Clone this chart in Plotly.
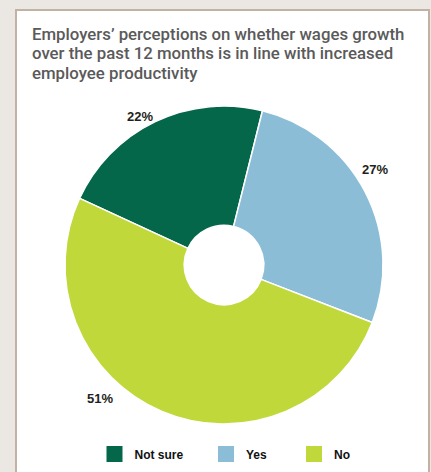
import math
import plotly.graph_objects as go

# Survey responses (share of employers, %)
labels = ["Not sure", "Yes", "No"]
values = [22, 27, 51]
colors = ["#04674a", "#8bbdd7", "#c1d83b"]

title_lines = [
    "Employers’ perceptions on whether wages growth",
    "over the past 12 months is in line with increased",
    "employee productivity",
]

W, H = 431, 472

# White panel (pixel edges) sitting on the beige page
PANEL_L, PANEL_R, PANEL_T = 16, 429, 10

# Donut geometry in pixels (centre and radius), converted to the pie domain
cx, cy, rad = 224, 265, 159
start_angle = -65.2          # clockwise from 12 o'clock, where the first slice begins
dom_x = [(cx - rad) / W, (cx + rad) / W]
dom_y = [(H - cy - rad) / H, (H - cy + rad) / H]

# Percentage labels: placed along each slice's direction, nudged a little
label_nudge_deg = [-4, -5, 20]
label_radius = [171, 179, 182]

FONT = "Liberation Sans, Arial, sans-serif"
TITLE_FONT = "Roboto, Liberation Sans, Arial, sans-serif"


def px_to_paper(x, y):
    return x / W, (H - y) / H


fig = go.Figure()
fig.add_trace(
    go.Pie(
        labels=labels,
        values=values,
        marker=dict(colors=colors, line=dict(color="white", width=1.5)),
        hole=0.25,
        sort=False,
        direction="clockwise",
        rotation=start_angle,
        textinfo="none",
        showlegend=False,
        hoverinfo="label+percent",
        domain=dict(x=dom_x, y=dom_y),
    )
)

# Legend entries: one square-marker entry per category, each in its own legend
legend_names = ["legend", "legend2", "legend3"]
legend_centres = [116.5, 228, 316]
for lab, col, lg in zip(labels, colors, legend_names):
    fig.add_trace(
        go.Scatter(
            x=[None], y=[None], mode="markers", name=lab, legend=lg,
            marker=dict(symbol="square", size=17, color=col),
            showlegend=True, hoverinfo="skip",
        )
    )

annotations = []
total = sum(values)
acc = 0.0
for v, nudge, r in zip(values, label_nudge_deg, label_radius):
    mid = start_angle + 360 * (acc + v / 2) / total + nudge
    acc += v
    lx = cx + r * math.sin(math.radians(mid))
    ly = cy - r * math.cos(math.radians(mid))
    px, py = px_to_paper(lx, ly)
    annotations.append(dict(
        x=px, y=py, xref="paper", yref="paper", showarrow=False,
        text=f"{v}%", xanchor="center", yanchor="middle",
        font=dict(family=FONT, size=13, color="#231f20", weight="bold"),
    ))

# Title, one line per annotation for tight line spacing
for i, line in enumerate(title_lines):
    tx, ty = px_to_paper(30, 34 + 19.5 * i)
    annotations.append(dict(
        x=tx, y=ty, xref="paper", yref="paper", showarrow=False,
        text=line, xanchor="left", yanchor="middle", align="left",
        font=dict(family=TITLE_FONT, size=16.8, color="#5a5a5a", weight=500),
    ))

legend_style = dict(
    orientation="h",
    xanchor="left",
    yanchor="middle",
    font=dict(family=FONT, size=12, color="#111111", weight="bold"),
    itemwidth=30,
    bgcolor="rgba(0,0,0,0)",
)
leg_y = (H - 454) / H
layout_legends = {}
for lg, c in zip(legend_names, legend_centres):
    layout_legends[lg] = dict(legend_style, x=(c - 22) / W, y=leg_y)

fig.update_layout(
    width=W,
    height=H,
    margin=dict(l=0, r=0, t=0, b=0),
    paper_bgcolor="#ebe8e3",
    plot_bgcolor="rgba(0,0,0,0)",
    xaxis=dict(visible=False, range=[0, 1]),
    yaxis=dict(visible=False, range=[0, 1]),
    annotations=annotations,
    shapes=[
        dict(type="rect", xref="paper", yref="paper",
             x0=PANEL_L / W, x1=PANEL_R / W, y0=-0.05, y1=(H - PANEL_T) / H,
             fillcolor="white", line=dict(color="#c2b2a3", width=2),
             layer="below"),
    ],
    **layout_legends,
)

fig.write_html("out.html")
